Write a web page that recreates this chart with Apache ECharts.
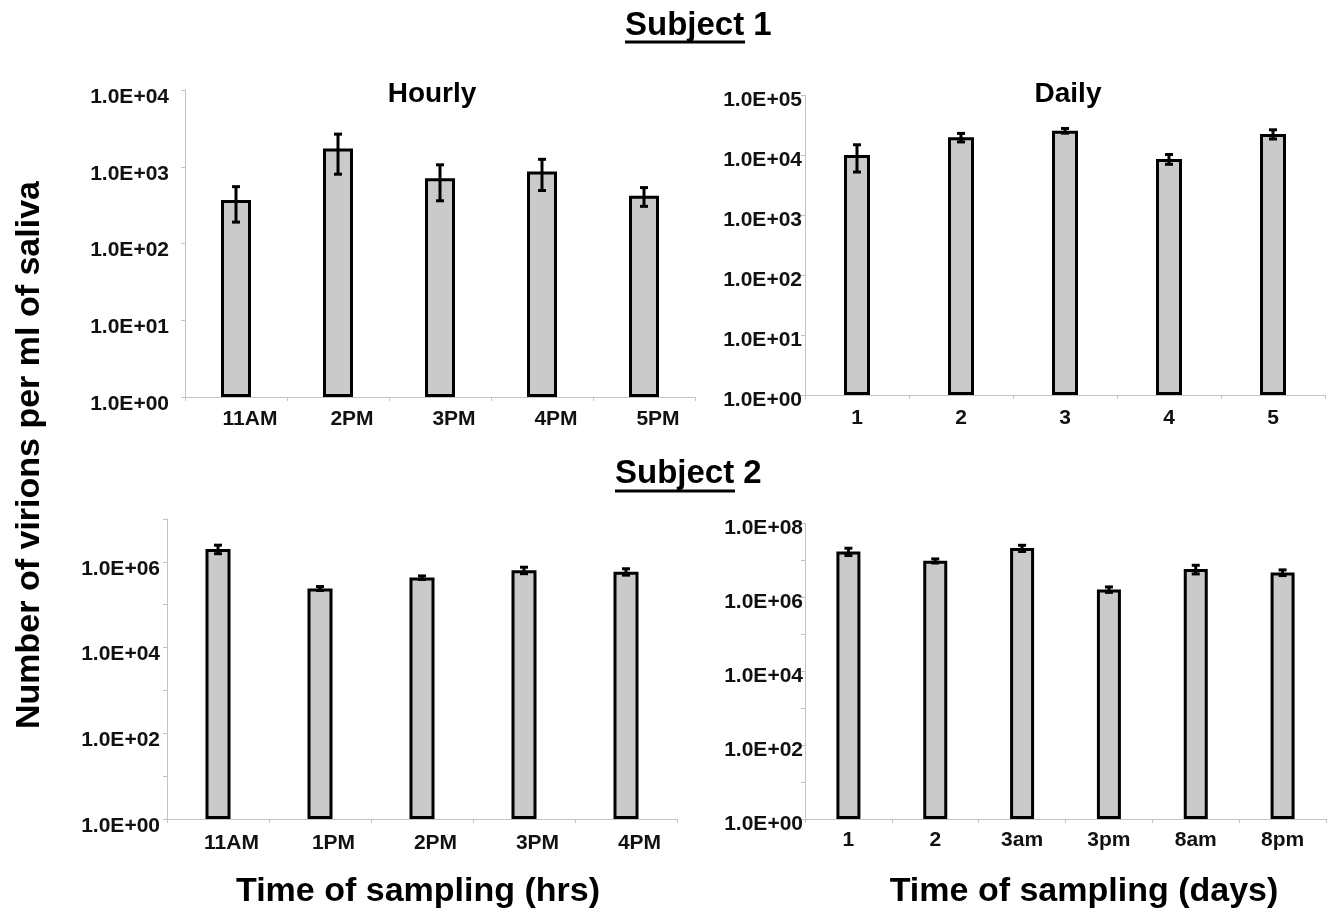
<!DOCTYPE html>
<html>
<head>
<meta charset="utf-8">
<script src="https://cdn.jsdelivr.net/npm/echarts@6/dist/echarts.min.js"></script>
<style>
html,body{margin:0;padding:0;background:#fff;}
#chart{width:1327px;height:912px;}
</style>
</head>
<body>
<div id="chart"></div>
<script>
// ---- Data ----
const catsS1Hourly = ['11AM', '2PM', '3PM', '4PM', '5PM'];
const valsS1Hourly = [370, 1730, 710, 870, 420];
const errS1Hourly  = [180, 930, 350, 380, 115];

const catsS1Daily = ['1', '2', '3', '4', '5'];
const valsS1Daily = [10000, 19700, 25400, 8600, 22400];
const errS1Daily  = [4800, 3200, 2300, 1600, 3900];

const catsS2Hourly = ['11AM', '1PM', '2PM', '3PM', '4PM'];
const valsS2Hourly = [2.0e6, 2.4e5, 4.3e5, 6.4e5, 5.9e5];
const errS2Hourly  = [4.5e5, 2.5e4, 4.0e4, 1.1e5, 1.0e5];

const catsS2Daily = ['1', '2', '3am', '3pm', '8am', '8pm'];
const valsS2Daily = [1.7e7, 9.5e6, 2.1e7, 1.6e6, 5.7e6, 4.6e6];
const errS2Daily  = [3.8e6, 1.2e6, 4.0e6, 2.7e5, 1.5e6, 8.0e5];

const yMaxS1Hourly = 1e4;
const yMaxS1Daily = 1e5;
const yMaxS2Hourly = 1e7;
const yMaxS2Daily = 1e8;

const titleSubject1 = 'Subject 1';
const titleSubject2 = 'Subject 2';
const titleHourly = 'Hourly';
const titleDaily = 'Daily';
const yTitle = 'Number of virions per ml of saliva';
const xTitleHrs = 'Time of sampling (hrs)';
const xTitleDays = 'Time of sampling (days)';

// ---- Chart ----
const FONT = "'Liberation Sans', Arial, Helvetica, sans-serif";
const chart = echarts.init(document.getElementById('chart'), null, {renderer: 'canvas'});

const panels = [
  {cats: catsS1Hourly, vals: valsS1Hourly, errs: errS1Hourly, max: yMaxS1Hourly,
   grid: {left: 185, top: 90, width: 510, height: 307}, barWidth: 30, yMargin: 16, yLH: 14, xPadLeft: 28, xMargin: 12, evenOnly: false},
  {cats: catsS1Daily, vals: valsS1Daily, errs: errS1Daily, max: yMaxS1Daily,
   grid: {left: 805, top: 95, width: 520, height: 300}, barWidth: 26, yMargin: 3, yLH: 10, xPadLeft: 0, xMargin: 13, evenOnly: false},
  {cats: catsS2Hourly, vals: valsS2Hourly, errs: errS2Hourly, max: yMaxS2Hourly,
   grid: {left: 167, top: 519, width: 510, height: 300}, barWidth: 25, yMargin: 7, yLH: 14, xPadLeft: 27, xMargin: 14, evenOnly: true},
  {cats: catsS2Daily, vals: valsS2Daily, errs: errS2Daily, max: yMaxS2Daily,
   grid: {left: 805, top: 523, width: 521, height: 296}, barWidth: 24, yMargin: 2, yLH: 10, xPadLeft: 0, xMargin: 11, evenOnly: true}
];

function expLabel(evenOnly) {
  return function (v) {
    const e = Math.round(Math.log10(v));
    if (evenOnly && e % 2 !== 0) return '';
    return '1.0E+' + String(e).padStart(2, '0');
  };
}

function errRender(params, api) {
  const i = api.value(0);
  const lo = api.coord([i, api.value(1)]);
  const hi = api.coord([i, api.value(2)]);
  const cx = lo[0];
  const hw = 4;
  const st = {stroke: '#000', lineWidth: 3};
  return {
    type: 'group',
    children: [
      {type: 'line', shape: {x1: cx, y1: lo[1], x2: cx, y2: hi[1]}, style: st},
      {type: 'line', shape: {x1: cx - hw, y1: hi[1], x2: cx + hw, y2: hi[1]}, style: st},
      {type: 'line', shape: {x1: cx - hw, y1: lo[1], x2: cx + hw, y2: lo[1]}, style: st}
    ]
  };
}

const grids = [], xAxes = [], yAxes = [], series = [];
panels.forEach((p, k) => {
  grids.push(Object.assign({containLabel: false}, p.grid));
  xAxes.push({
    type: 'category', gridIndex: k, data: p.cats,
    axisLine: {show: true, lineStyle: {color: '#c4c4c4', width: 1}},
    axisTick: {show: true, length: 4, lineStyle: {color: '#c4c4c4'}},
    axisLabel: {color: '#111', fontWeight: 'bold', fontSize: 21, fontFamily: FONT,
                margin: p.xMargin, padding: [0, 0, 0, p.xPadLeft]},
    splitLine: {show: false}
  });
  yAxes.push({
    type: 'log', logBase: 10, gridIndex: k, min: 1, max: p.max,
    splitNumber: Math.round(Math.log10(p.max)),
    axisLine: {show: true, lineStyle: {color: '#c4c4c4', width: 1}},
    axisTick: {show: true, length: 4, lineStyle: {color: '#c4c4c4'}},
    axisLabel: {color: '#111', fontWeight: 'bold', fontSize: 21, fontFamily: FONT,
                margin: p.yMargin, verticalAlign: 'top', lineHeight: p.yLH,
                formatter: expLabel(p.evenOnly)},
    splitLine: {show: false},
    minorTick: {show: false}
  });
  series.push({
    type: 'bar', xAxisIndex: k, yAxisIndex: k, data: p.vals, barWidth: p.barWidth,
    itemStyle: {color: '#cacaca', borderColor: '#000', borderWidth: 3},
    silent: true, animation: false, z: 2
  });
  series.push({
    type: 'custom', xAxisIndex: k, yAxisIndex: k,
    data: p.vals.map((v, i) => [i, v - p.errs[i], v + p.errs[i]]),
    encode: {x: 0, y: [1, 2]},
    renderItem: errRender, silent: true, animation: false, z: 5
  });
});

const graphics = [
  {type: 'text', style: {text: titleSubject1, x: 625, y: 26, font: 'bold 33px ' + FONT, fill: '#000', align: 'left', verticalAlign: 'middle'}},
  {type: 'line', shape: {x1: 625, y1: 42, x2: 745, y2: 42}, style: {stroke: '#000', lineWidth: 3}},
  {type: 'text', style: {text: titleSubject2, x: 615, y: 474, font: 'bold 33px ' + FONT, fill: '#000', align: 'left', verticalAlign: 'middle'}},
  {type: 'line', shape: {x1: 615, y1: 491, x2: 735, y2: 491}, style: {stroke: '#000', lineWidth: 3}},
  {type: 'text', style: {text: titleHourly, x: 432, y: 94, font: 'bold 28px ' + FONT, fill: '#000', align: 'center', verticalAlign: 'middle'}},
  {type: 'text', style: {text: titleDaily, x: 1068, y: 94, font: 'bold 28px ' + FONT, fill: '#000', align: 'center', verticalAlign: 'middle'}},
  {type: 'text', x: 30, y: 455, rotation: Math.PI / 2,
   style: {text: yTitle, x: 0, y: 0, font: 'bold 34px ' + FONT, fill: '#000', align: 'center', verticalAlign: 'middle'}},
  {type: 'text', style: {text: xTitleHrs, x: 418, y: 892, font: 'bold 34px ' + FONT, fill: '#000', align: 'center', verticalAlign: 'middle'}},
  {type: 'text', style: {text: xTitleDays, x: 1084, y: 892, font: 'bold 34px ' + FONT, fill: '#000', align: 'center', verticalAlign: 'middle'}}
];

chart.setOption({
  backgroundColor: '#ffffff',
  animation: false,
  grid: grids,
  xAxis: xAxes,
  yAxis: yAxes,
  series: series,
  graphic: graphics
});
</script>
</body>
</html>
